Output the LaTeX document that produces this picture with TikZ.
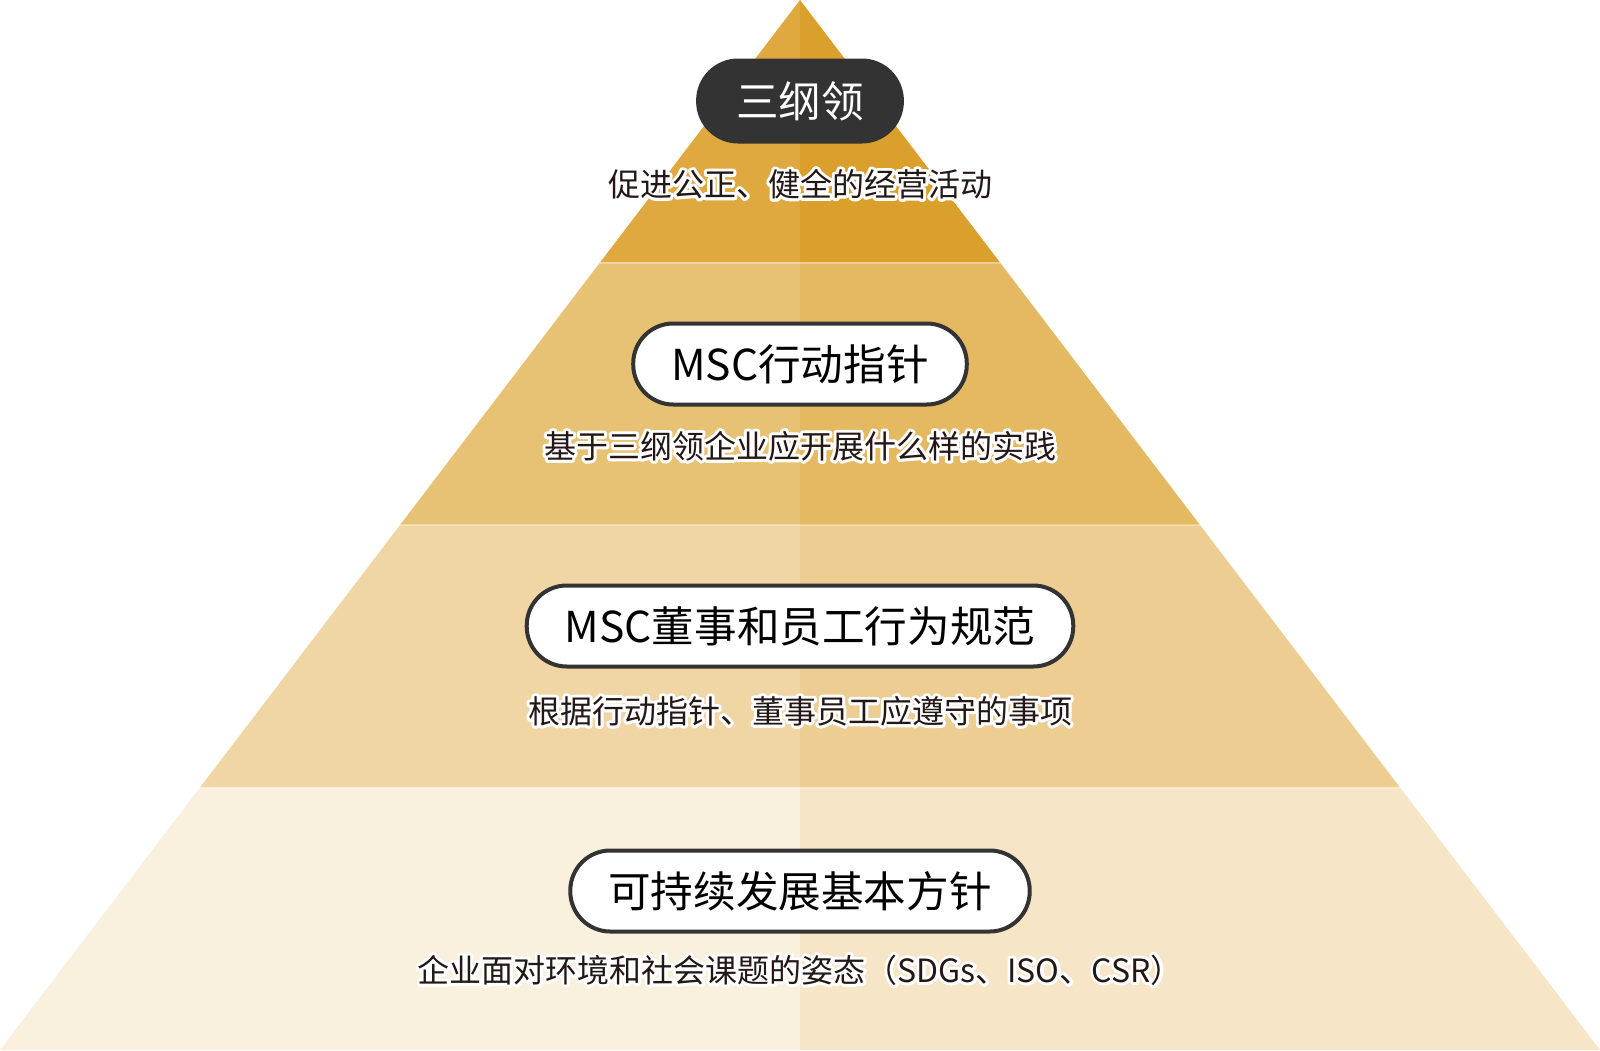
\documentclass[tikz,border=0pt]{standalone}
\usepackage{fontspec}
\setmainfont{Noto Sans CJK SC}
\usepackage{tikz}
\usetikzlibrary{positioning}
\definecolor{pyrink}{HTML}{231815}
\definecolor{pyrdark}{HTML}{333333}
\definecolor{pyrlA}{HTML}{E0A93F}
\definecolor{pyrrA}{HTML}{DBA02B}
\definecolor{pyrlB}{HTML}{E8C274}
\definecolor{pyrrB}{HTML}{E5B862}
\definecolor{pyrlC}{HTML}{F0D6A5}
\definecolor{pyrrC}{HTML}{EDCD91}
\definecolor{pyrlD}{HTML}{FAF0DE}
\definecolor{pyrrD}{HTML}{F6E5C7}
% white stroked copy under the text (text render mode 1)
\newcommand\halo[1]{\rlap{\special{pdf:literal direct 1 Tr 3 w 1 j 1 1 1 RG}#1\special{pdf:literal direct 0 Tr}}#1}
\tikzset{
  pill/.style={rectangle,rounded corners=20pt,draw=pyrdark,line width=2pt,
               fill=white,minimum height=40.5pt,inner xsep=19pt,inner ysep=0pt,
               font=\fontsize{21.3}{24}\selectfont,text=black},
  toppill/.style={pill,fill=pyrdark,text=white},
  caption/.style={inner sep=0pt,font=\fontsize{16}{19}\selectfont,text=pyrink},
  seam/.style={draw=white,opacity=0.3,line width=1pt},
}

\begin{document}
\begin{tikzpicture}[x=0.5pt,y=-0.5pt]
  \fill[white] (0,0) rectangle (1600,1050);
  \useasboundingbox (0,0) rectangle (1600,1050);
  % tiers, each split into a lighter left and a darker right half
  \foreach \ya/\yb/\wa/\wb/\t in {0/262.5/0/200/A, 262.5/525/200/400/B, 525/787.5/400/600/C, 787.5/1050/600/800/D}{
    \fill[fill=pyrl\t] (800-\wa,\ya) -- (800,\ya) -- (800,\yb) -- (800-\wb,\yb) -- cycle;
    \fill[fill=pyrr\t] (800,\ya) -- (800+\wa,\ya) -- (800+\wb,\yb) -- (800,\yb) -- cycle;
  }
  \foreach \y/\w in {262.5/200, 525/400, 787.5/600}{\draw[seam] (800-\w,\y) -- (800+\w,\y);}
  % tier titles
  \node[toppill] (pillgang)  at (800,101) {三纲领};
  \node[pill]    (pillguide) at (800,364) {MSC行动指针};
  \node[pill]    (pillcode)  at (800,626) {MSC董事和员工行为规范};
  \node[pill]    (pillsdg)   at (800,891) {可持续发展基本方针};
  % captions
  \node[caption] (capgang)  at (800,184) {\halo{促进公正、健全的经营活动}};
  \node[caption] (capguide) at (800,446) {\halo{基于三纲领企业应开展什么样的实践}};
  \node[caption] (capcode)  at (800,711) {\halo{根据行动指针、董事员工应遵守的事项}};
  \node[caption] (capsdg)   at (800,970) {\halo{企业面对环境和社会课题的姿态（SDGs、ISO、CSR）}};
\end{tikzpicture}
\end{document}
